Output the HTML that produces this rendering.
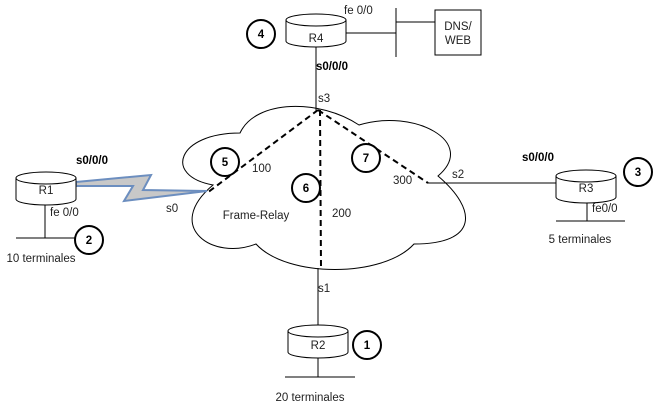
<!DOCTYPE html>
<html><head><style>
body{margin:0;background:#fff}
svg{display:block}
text{font-family:"Liberation Sans",sans-serif;font-size:11.5px;fill:#222}
.b{font-weight:bold;fill:#000}
</style></head><body>
<svg width="657" height="409" viewBox="0 0 657 409" xmlns="http://www.w3.org/2000/svg">
<defs>
<g id="cyl"><path d="M0 6 A30 6 0 0 1 60 6 L60 27 A30 6 0 0 1 0 27 Z" fill="#fff" stroke="#000"/><path d="M0 6 A30 6 0 0 0 60 6" fill="none" stroke="#000"/></g>
</defs>
<path d="M240 133 C177 133 163 176 213 185 C163 227 213 261 256 244 C287 278 383 278 414 244 C478 244 478 210 438 176 C478 142 414 108 359 125 C320 99 256 99 240 133 Z" fill="#fff" stroke="#000"/>
<g stroke="#000" fill="none">
<line x1="316" y1="46" x2="316" y2="111"/>
<line x1="346" y1="33" x2="396" y2="33"/>
<line x1="396" y1="8" x2="396" y2="57"/>
<line x1="396" y1="22" x2="435" y2="22"/>
<rect x="435" y="10" width="46" height="45"/>
<line x1="45" y1="203" x2="45" y2="238"/>
<line x1="16" y1="238" x2="76" y2="238"/>
<line x1="428" y1="183" x2="556" y2="183"/>
<line x1="587" y1="198" x2="587" y2="221"/>
<line x1="556" y1="221" x2="625" y2="221"/>
<line x1="318" y1="268" x2="318" y2="325"/>
<line x1="318" y1="357" x2="318" y2="377"/>
<line x1="285" y1="377" x2="355" y2="377"/>
</g>
<g stroke="#000" stroke-width="2" stroke-dasharray="6,4" fill="none">
<line x1="318" y1="110" x2="207" y2="193"/>
<line x1="320" y1="110" x2="321" y2="268"/>
<line x1="318" y1="110" x2="428" y2="183"/>
</g>
<polygon points="76,182 151,175 143,190 207,191 124,201 133,186 76,186" fill="#c8c8c8" stroke="#6c8ebf" stroke-width="2"/>
<use href="#cyl" x="286" y="14"/>
<use href="#cyl" x="16" y="172"/>
<use href="#cyl" x="556" y="170"/>
<use href="#cyl" x="288" y="325"/>
<g fill="#fff" stroke="#000" stroke-width="2">
<circle cx="261" cy="34" r="14"/>
<circle cx="225" cy="162" r="14"/>
<circle cx="306" cy="188" r="14"/>
<circle cx="366" cy="158" r="14"/>
<circle cx="89" cy="240" r="14"/>
<circle cx="638" cy="172" r="14"/>
<circle cx="367" cy="345" r="14"/>
</g>
<g text-anchor="middle">
<text x="261" y="38" style="font-weight:bold;fill:#000">4</text>
<text x="225" y="166" style="font-weight:bold;fill:#000">5</text>
<text x="306" y="192" style="font-weight:bold;fill:#000">6</text>
<text x="366" y="162" style="font-weight:bold;fill:#000">7</text>
<text x="89" y="244" style="font-weight:bold;fill:#000">2</text>
<text x="638" y="176" style="font-weight:bold;fill:#000">3</text>
<text x="367" y="349" style="font-weight:bold;fill:#000">1</text>
<text x="316" y="42">R4</text>
<text x="46" y="194">R1</text>
<text x="586" y="192">R3</text>
<text x="318" y="349">R2</text>
<text x="458" y="30">DNS/</text>
<text x="458" y="44">WEB</text>
<text x="256" y="219">Frame-Relay</text>
<text x="41" y="262">10 terminales</text>
<text x="580" y="243">5 terminales</text>
<text x="310" y="401">20 terminales</text>
</g>
<text x="344" y="14">fe 0/0</text>
<text x="316" y="70" class="b">s0/0/0</text>
<text x="318" y="102">s3</text>
<text x="76" y="164" class="b">s0/0/0</text>
<text x="50" y="216">fe 0/0</text>
<text x="166" y="212">s0</text>
<text x="252" y="172">100</text>
<text x="332" y="217">200</text>
<text x="393" y="184">300</text>
<text x="452" y="178">s2</text>
<text x="522" y="161" class="b">s0/0/0</text>
<text x="592" y="212">fe0/0</text>
<text x="318" y="292">s1</text>
</svg>
</body></html>
